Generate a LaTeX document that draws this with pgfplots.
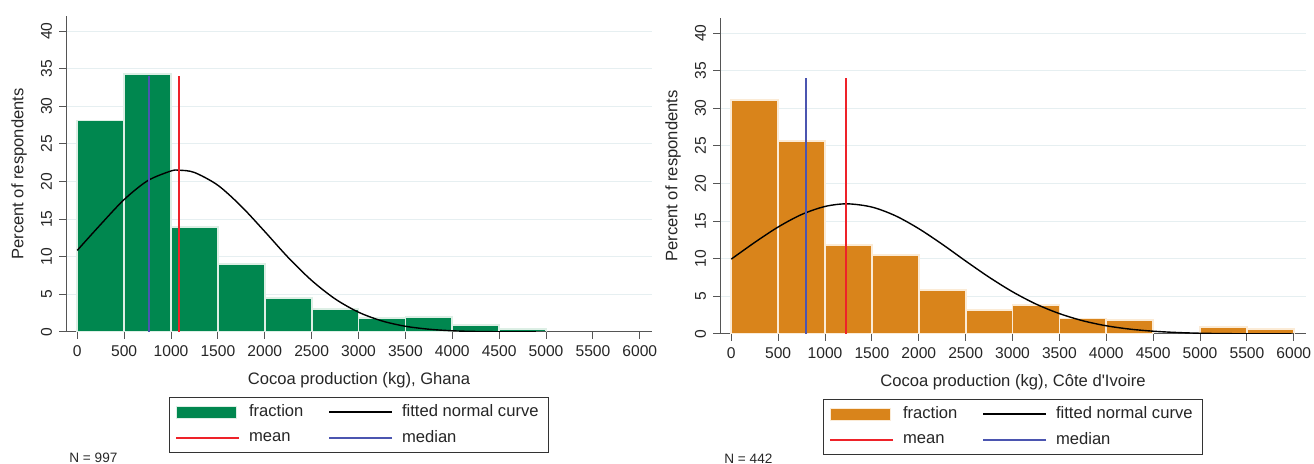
\documentclass[border=0pt]{standalone}
\usepackage{fontspec}
\setmainfont{Liberation Sans}
\usepackage{pgfplots}
\pgfplotsset{compat=1.18}

\definecolor{ghgreen}{HTML}{00874F}
\definecolor{ghedge}{HTML}{DDEFE5}
\definecolor{ciorange}{HTML}{D9841B}
\definecolor{ciedge}{HTML}{FBEBD6}
\definecolor{meanred}{HTML}{EE2229}
\definecolor{medblue}{HTML}{4B55B0}
\definecolor{axisgray}{HTML}{555555}
\definecolor{gridc}{HTML}{E6EFF1}

\pgfplotsset{
  cocoa/.style={
    scale only axis, width=293pt, height=158pt,
    xmin=-120, xmax=6130, ymin=0, ymax=42,
    axis x line*=bottom, axis y line*=left,
    axis line style={draw=axisgray, line width=0.5pt},
    xtick={0,500,...,6000}, ytick={0,5,...,40},
    tick align=outside, major tick length=3.5pt,
    tick style={draw=axisgray, line width=0.5pt},
    ymajorgrids, grid style={draw=gridc, line width=0.5pt},
    /pgf/number format/1000 sep={},
    /pgf/number format/assume math mode=true,
    ticklabel style={font=\fontsize{7.8}{9}\selectfont, text=black!85},
    yticklabel style={rotate=90, anchor=south},
    label style={font=\fontsize{8.3}{10}\selectfont, text=black!85},
    xlabel style={at={(axis description cs:0.5,-0.152)}, anchor=center},
    ylabel style={at={(axis description cs:-0.0802,0.5)}, anchor=center},
    ylabel={Percent of respondents},
    legend columns=2,
    legend style={at={(0.5,0)}, anchor=north, yshift=-32.5pt,
      draw=black!80, line width=0.6pt, inner xsep=3pt, inner ysep=1.5pt,
      font=\fontsize{8.3}{10}\selectfont, text=black!85,
      cells={anchor=west, inner ysep=1pt},
      row sep=1.5pt,
      /tikz/every odd column/.append style={column sep=2.5pt},
      /tikz/every even column/.append style={column sep=10.5pt}},
  },
  vline/.style={ybar, bar width=1pt, bar shift=0pt, fill=#1, draw=none,
    legend image code/.code={\draw[#1, line width=0.8pt] (0pt,0pt) -- (31.5pt,0pt);}},
}

\begin{document}
\begin{tikzpicture}
\path[use as bounding box] (0,0) rectangle (657pt,232pt);

% Ghana
\begin{axis}[cocoa, at={(33pt,66pt)}, anchor=south west,
  xlabel={Cocoa production (kg), Ghana}]
\addplot[ybar, bar width=500, bar shift=0pt, fill=ghgreen, draw=ghedge, line width=0.9pt,
  legend image code/.code={\draw[fill=ghgreen, draw=ghedge, line width=0.6pt] (0pt,-3pt) rectangle (30pt,3pt);}]
  coordinates {(250,28.1) (750,34.3) (1250,14.0) (1750,9.0) (2250,4.5)
               (2750,3.1) (3250,1.9) (3750,2.0) (4250,0.9) (4750,0.4)};
\addplot[draw=black, line width=0.7pt, smooth,
  legend image code/.code={\draw[black, line width=0.7pt] (0pt,0pt) -- (31.5pt,0pt);}] coordinates {
  (0,10.85) (250,14.3) (500,17.6) (750,20.1) (1000,21.4) (1090,21.5) (1250,21.2)
  (1500,19.5) (1750,16.7) (2000,13.35) (2250,9.9) (2500,6.85) (2750,4.4)
  (3000,2.63) (3250,1.47) (3500,0.76) (3750,0.37) (4000,0.16) (4250,0.07)
  (4500,0.03) (4750,0.01) (5000,0.003)};
\addplot[vline=meanred] coordinates {(1090,34)};
\addplot[vline=medblue] coordinates {(768,34)};
\legend{fraction, fitted normal curve, mean, median}
\end{axis}
\node[anchor=west, inner sep=0pt, font=\fontsize{6.8}{8}\selectfont, text=black!85] at (34.5pt,3pt) {N = 997};

% Cote d'Ivoire
\begin{axis}[cocoa, at={(360pt,65pt)}, anchor=south west,
  xlabel={Cocoa production (kg), Côte d\textquotesingle Ivoire}]
\addplot[ybar, bar width=500, bar shift=0pt, fill=ciorange, draw=ciedge, line width=0.9pt,
  legend image code/.code={\draw[fill=ciorange, draw=ciedge, line width=0.6pt] (0pt,-3pt) rectangle (30pt,3pt);}]
  coordinates {(250,31.1) (750,25.7) (1250,11.8) (1750,10.5) (2250,5.9)
               (2750,3.2) (3250,3.9) (3750,2.05) (4250,1.85) (5250,0.9) (5750,0.65)};
\addplot[draw=black, line width=0.7pt, smooth,
  legend image code/.code={\draw[black, line width=0.7pt] (0pt,0pt) -- (31.5pt,0pt);}] coordinates {
  (0,9.95) (250,12.17) (500,14.22) (750,15.88) (1000,16.95) (1236,17.3) (1500,16.87)
  (1750,15.72) (2000,14.0) (2250,11.93) (2500,9.7) (2750,7.55) (3000,5.61)
  (3250,3.98) (3500,2.71) (3750,1.76) (4000,1.09) (4250,0.65) (4500,0.37)
  (4750,0.2) (5000,0.1) (5250,0.05) (5500,0.024) (5750,0.011) (6000,0.005)};
\addplot[vline=meanred] coordinates {(1222,34)};
\addplot[vline=medblue] coordinates {(792,34)};
\legend{fraction, fitted normal curve, mean, median}
\end{axis}
\node[anchor=west, inner sep=0pt, font=\fontsize{6.8}{8}\selectfont, text=black!85] at (362pt,2.5pt) {N = 442};
\end{tikzpicture}
\end{document}
